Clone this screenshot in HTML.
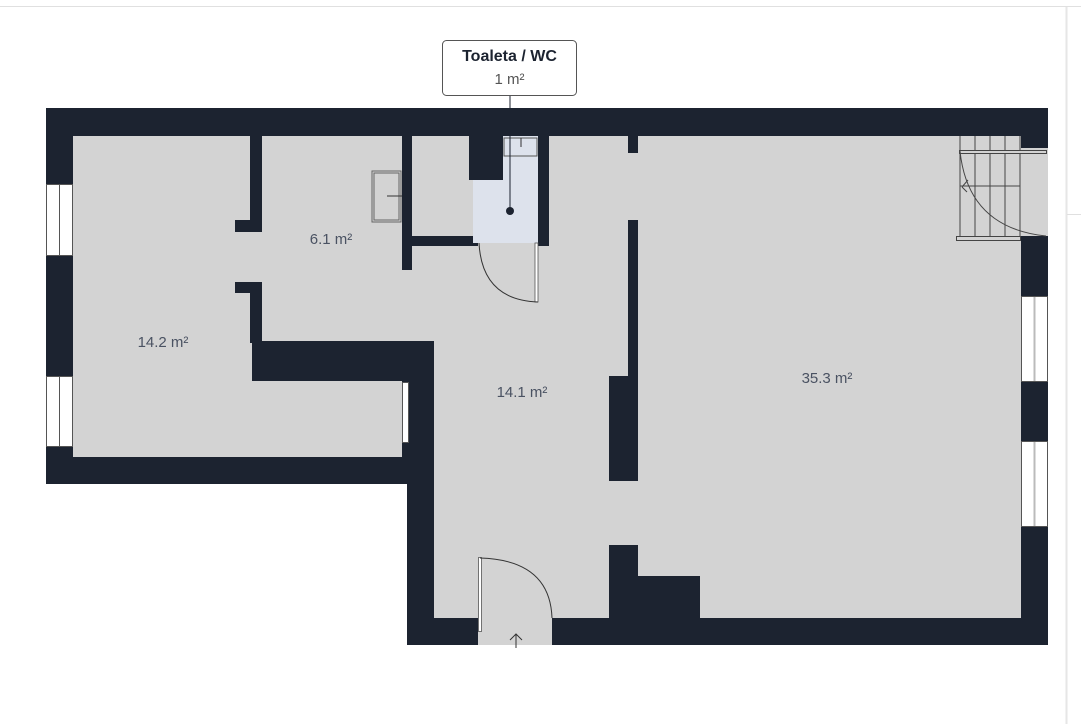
<!DOCTYPE html>
<html><head><style>
html,body{margin:0;padding:0;background:#fff;}
svg{display:block;}
text{font-family:"Liberation Sans",sans-serif;}
</style></head><body>
<svg width="1081" height="724" viewBox="0 0 1081 724" xmlns="http://www.w3.org/2000/svg">
<rect width="1081" height="724" fill="#fff"/>
<line x1="0" y1="6.5" x2="1081" y2="6.5" stroke="#e0e0e0" stroke-width="1"/>
<line x1="1066.5" y1="7" x2="1066.5" y2="724" stroke="#e6e6e6" stroke-width="2"/>
<line x1="1067" y1="214.5" x2="1081" y2="214.5" stroke="#e0e0e0" stroke-width="1"/>
<path d="M46 108 H1048 V645 H407 V484 H46 Z" fill="#1c2330"/>
<path d="M73 136 H1021 V618 H434 V381 H402 V457 H73 Z" fill="#d3d3d3"/>
<g fill="#1c2330">
<rect x="250" y="136" width="12" height="96"/>
<rect x="235" y="220" width="27" height="12"/>
<rect x="250" y="282" width="12" height="61"/>
<rect x="235" y="282" width="27" height="11"/>
<rect x="252" y="341" width="182" height="40"/>
<rect x="402" y="341" width="32" height="143"/>
<rect x="402" y="136" width="10" height="134"/>
<rect x="402" y="236" width="76" height="10"/>
<rect x="469" y="136" width="34" height="44"/>
<rect x="538" y="136" width="11" height="110"/>
<rect x="628" y="136" width="10" height="17"/>
<rect x="628" y="220" width="10" height="160"/>
<rect x="609" y="376" width="29" height="105"/>
<rect x="609" y="545" width="29" height="73"/>
<rect x="609" y="576" width="91" height="42"/>
</g>
<rect x="473" y="180" width="65" height="63" fill="#dde2ec"/>
<rect x="503" y="136" width="35" height="44" fill="#dde2ec"/>
<rect x="504" y="138" width="33" height="18" fill="#dde2ec" stroke="#555" stroke-width="1"/>
<line x1="521" y1="138" x2="521" y2="147" stroke="#333"/>
<rect x="535" y="243" width="3" height="59" fill="#fff" stroke="#555" stroke-width="0.8"/>
<path d="M479 243 Q482 300 538 302" fill="none" stroke="#333" stroke-width="1"/>
<rect x="372" y="171" width="29" height="51" fill="none" stroke="#666" stroke-width="1"/>
<rect x="374" y="173" width="25" height="47" fill="none" stroke="#666" stroke-width="1"/>
<line x1="387" y1="196" x2="402" y2="196" stroke="#333"/>
<g fill="#fff" stroke="#555" stroke-width="1">
<rect x="46.5" y="184.5" width="26" height="71"/>
<rect x="46.5" y="376.5" width="26" height="70"/>
<rect x="1021.5" y="296.5" width="26" height="85"/>
<rect x="1021.5" y="441.5" width="26" height="85"/>
<rect x="402.5" y="382.5" width="6" height="60"/>
</g>
<line x1="59.5" y1="185" x2="59.5" y2="255" stroke="#555"/>
<line x1="59.5" y1="377" x2="59.5" y2="446" stroke="#555"/>
<line x1="1034.5" y1="297" x2="1034.5" y2="381" stroke="#bbb" stroke-width="2"/>
<line x1="1034.5" y1="442" x2="1034.5" y2="526" stroke="#bbb" stroke-width="2"/>
<rect x="1021" y="148" width="27" height="88" fill="#d3d3d3"/>
<g stroke="#444" stroke-width="1" fill="none">
<line x1="960" y1="136" x2="960" y2="236"/>
<line x1="975" y1="136" x2="975" y2="236"/>
<line x1="990" y1="136" x2="990" y2="236"/>
<line x1="1005" y1="136" x2="1005" y2="236"/>
<line x1="1020" y1="136" x2="1020" y2="236"/>
<line x1="960" y1="186" x2="1020" y2="186"/>
<rect x="959.5" y="150.5" width="87" height="3" fill="#d3d3d3"/>
<rect x="956.5" y="236.5" width="64" height="4" fill="#d3d3d3"/>
<path d="M960 151 Q968 228 1046 236"/>
<path d="M962 187 L968 180 M962 187 L967 192"/>
</g>
<rect x="478" y="618" width="74" height="27" fill="#d3d3d3"/>
<rect x="478.5" y="557.5" width="3" height="74" fill="#fff" stroke="#555" stroke-width="0.8"/>
<path d="M480 558 Q550 560 552 618" fill="none" stroke="#333" stroke-width="1"/>
<path d="M516 648 V634 M510 640 L516 634 L522 640" fill="none" stroke="#333" stroke-width="1"/>
<g font-size="15" fill="#4a5262" text-anchor="middle">
<text x="163" y="347">14.2 m²</text>
<text x="331" y="244">6.1 m²</text>
<text x="522" y="397">14.1 m²</text>
<text x="827" y="383">35.3 m²</text>
</g>
<line x1="510" y1="95" x2="510" y2="211" stroke="#1c2330" stroke-width="1"/>
<circle cx="510" cy="211" r="4" fill="#1c2330"/>
<rect x="442.5" y="40.5" width="134" height="55" rx="4" fill="#fff" stroke="#555" stroke-width="1"/>
<text x="509.5" y="61" font-size="16" font-weight="bold" fill="#1c2330" text-anchor="middle">Toaleta / WC</text>
<text x="509.5" y="84" font-size="15" fill="#555" text-anchor="middle">1 m²</text>
</svg>
</body></html>
